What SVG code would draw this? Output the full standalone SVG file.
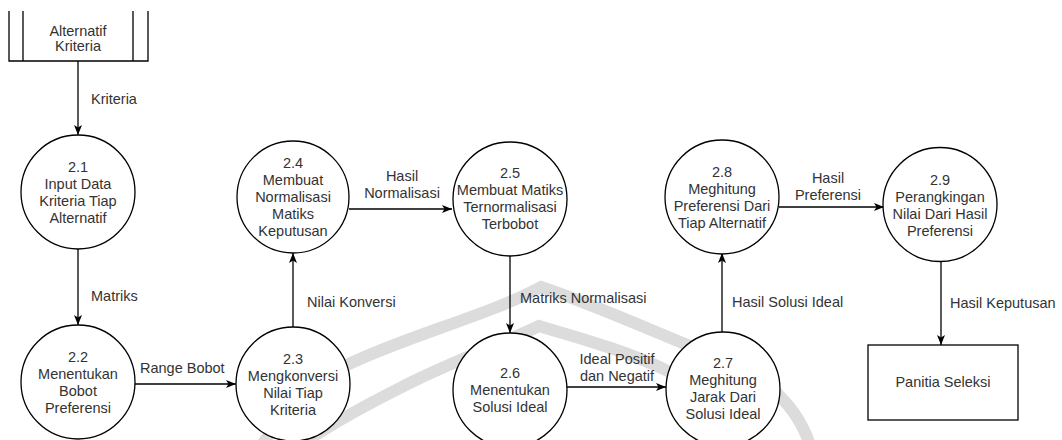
<svg xmlns="http://www.w3.org/2000/svg" width="1062" height="440" viewBox="0 0 1062 440">
<style>
  .shape { fill: #ffffff; stroke: #000000; stroke-width: 1.3; }
  .line { fill: none; stroke: #000000; stroke-width: 1.3; }
  .wm { fill: none; stroke: #dcdcdc; stroke-width: 12; }
  text { font-family: "Liberation Sans", Arial, sans-serif; font-size: 14.5px; fill: #333333; }
  .c { text-anchor: middle; }
</style>
<defs>
  <marker id="arrow" viewBox="0 0 10 10" refX="10" refY="5" markerWidth="10" markerHeight="10" markerUnits="userSpaceOnUse" orient="auto">
    <path d="M0,1 L10,5 L0,9 L2.5,5 Z" fill="#000000"/>
  </marker>
</defs>
<rect width="1062" height="440" fill="#ffffff"/>

<!-- watermark -->
<g id="watermark">
  <path class="wm" d="M 262 445 C 290 400, 315 380, 345 366 C 400 338, 490 315, 541 287 C 590 303, 650 330, 700 350 C 760 372, 795 400, 810 445"/>
  <path class="wm" d="M 300 445 C 330 425, 360 408, 400 388 C 450 362, 500 345, 539 326 C 580 338, 630 352, 670 372 C 700 390, 725 415, 740 445"/>
</g>

<!-- connectors -->
<g id="connectors">
  <line class="line" x1="78" y1="61" x2="78" y2="135" marker-end="url(#arrow)"/>
  <text x="91" y="104">Kriteria</text>
  <line class="line" x1="78" y1="249" x2="78" y2="325" marker-end="url(#arrow)"/>
  <text x="91" y="301">Matriks</text>
  <line class="line" x1="135" y1="384" x2="236" y2="384" marker-end="url(#arrow)"/>
  <text x="140" y="373">Range Bobot</text>
  <line class="line" x1="293" y1="327" x2="293" y2="253" marker-end="url(#arrow)"/>
  <text x="307" y="307">Nilai Konversi</text>
  <line class="line" x1="349" y1="209" x2="452" y2="209" marker-end="url(#arrow)"/>
  <text class="c" x="402" y="181">Hasil</text>
  <text class="c" x="402" y="198">Normalisasi</text>
  <line class="line" x1="510" y1="256" x2="510" y2="333" marker-end="url(#arrow)"/>
  <text x="520" y="303">Matriks Normalisasi</text>
  <line class="line" x1="567" y1="387" x2="666" y2="387" marker-end="url(#arrow)"/>
  <text class="c" x="617" y="364">Ideal Positif</text>
  <text class="c" x="617" y="381">dan Negatif</text>
  <line class="line" x1="722" y1="332" x2="722" y2="253" marker-end="url(#arrow)"/>
  <text x="732" y="307">Hasil Solusi Ideal</text>
  <line class="line" x1="779" y1="207" x2="884" y2="207" marker-end="url(#arrow)"/>
  <text class="c" x="828" y="183">Hasil</text>
  <text class="c" x="828" y="200">Preferensi</text>
  <line class="line" x1="941" y1="261" x2="941" y2="345" marker-end="url(#arrow)"/>
  <text x="950" y="308">Hasil Keputusan</text>
</g>

<!-- data store -->
<g id="store-alternatif-kriteria">
  <rect x="9" y="4" width="139" height="57" fill="#ffffff" stroke="none"/>
  <path class="line" d="M9,11 L9,61 L148,61 L148,11 M23,11 L23,61 M133,11 L133,61"/>
  <text class="c" x="78" y="36">Alternatif</text>
  <text class="c" x="78" y="51">Kriteria</text>
</g>

<g id="p2-1">
  <circle class="shape" cx="78" cy="192" r="57"/>
  <text class="c" x="78" y="172">2.1</text>
  <text class="c" x="78" y="189">Input Data</text>
  <text class="c" x="78" y="206">Kriteria Tiap</text>
  <text class="c" x="78" y="223">Alternatif</text>
</g>

<g id="p2-2">
  <circle class="shape" cx="78" cy="382" r="57"/>
  <text class="c" x="78" y="362">2.2</text>
  <text class="c" x="78" y="379">Menentukan</text>
  <text class="c" x="78" y="396">Bobot</text>
  <text class="c" x="78" y="413">Preferensi</text>
</g>

<g id="p2-3">
  <circle class="shape" cx="293" cy="384" r="57"/>
  <text class="c" x="293" y="364">2.3</text>
  <text class="c" x="293" y="381">Mengkonversi</text>
  <text class="c" x="293" y="398">Nilai Tiap</text>
  <text class="c" x="293" y="415">Kriteria</text>
</g>

<g id="p2-4">
  <circle class="shape" cx="293" cy="197" r="56"/>
  <text class="c" x="293" y="168">2.4</text>
  <text class="c" x="293" y="185">Membuat</text>
  <text class="c" x="293" y="202">Normalisasi</text>
  <text class="c" x="293" y="219">Matiks</text>
  <text class="c" x="293" y="236">Keputusan</text>
</g>

<g id="p2-5">
  <circle class="shape" cx="510" cy="199" r="57"/>
  <text class="c" x="510" y="178">2.5</text>
  <text class="c" x="510" y="195">Membuat Matiks</text>
  <text class="c" x="510" y="212">Ternormalisasi</text>
  <text class="c" x="510" y="229">Terbobot</text>
</g>

<g id="p2-6">
  <circle class="shape" cx="510" cy="390" r="57"/>
  <text class="c" x="510" y="378">2.6</text>
  <text class="c" x="510" y="395">Menentukan</text>
  <text class="c" x="510" y="412">Solusi Ideal</text>
</g>

<g id="p2-7">
  <circle class="shape" cx="723" cy="389" r="57"/>
  <text class="c" x="723" y="368">2.7</text>
  <text class="c" x="723" y="385">Meghitung</text>
  <text class="c" x="723" y="402">Jarak Dari</text>
  <text class="c" x="723" y="419">Solusi Ideal</text>
</g>

<g id="p2-8">
  <circle class="shape" cx="722" cy="197" r="57"/>
  <text class="c" x="722" y="177">2.8</text>
  <text class="c" x="722" y="194">Meghitung</text>
  <text class="c" x="722" y="211">Preferensi Dari</text>
  <text class="c" x="722" y="228">Tiap Alternatif</text>
</g>

<g id="p2-9">
  <circle class="shape" cx="940" cy="204.5" r="57"/>
  <text class="c" x="940" y="185">2.9</text>
  <text class="c" x="940" y="202">Perangkingan</text>
  <text class="c" x="940" y="219">Nilai Dari Hasil</text>
  <text class="c" x="940" y="236">Preferensi</text>
</g>

<g id="panitia-seleksi">
  <rect class="shape" x="868" y="345" width="150" height="75"/>
  <text class="c" x="943" y="387">Panitia Seleksi</text>
</g>
</svg>
